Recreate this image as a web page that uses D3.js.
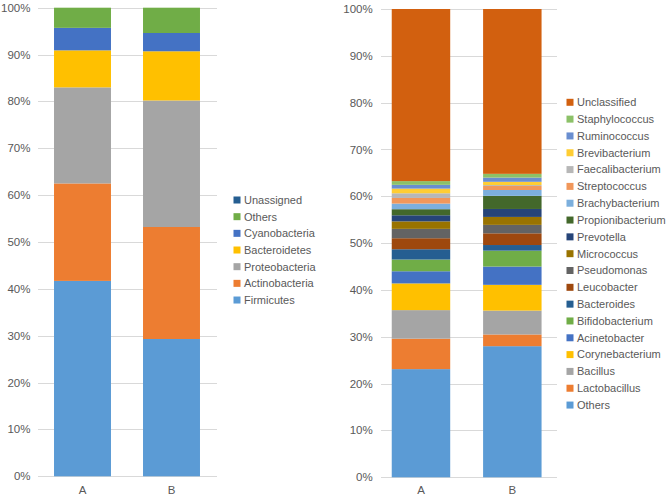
<!DOCTYPE html>
<html lang="en">
<head>
    <meta charset="UTF-8">
    <title>Stacked composition</title>
    <script src="https://cdn.jsdelivr.net/npm/d3@7"></script>
    <style>
        body { margin: 0; background: #fff; }
        text { font-family: "Liberation Sans", Arial, Helvetica, sans-serif; fill: #595959; }
    </style>
</head>
<body>
<div id="chart"></div>

<script type=text/javascript>
    var width = 669;
    var height = 503;

    var samples = ["A", "B"];
    var yTicks = [0, 0.1, 0.2, 0.3, 0.4, 0.5, 0.6, 0.7, 0.8, 0.9, 1];

    // left panel: phylum level, stacked bottom -> top
    var phyla = ["Firmicutes", "Actinobacteria", "Proteobacteria", "Bacteroidetes", "Cyanobacteria", "Others", "Unassigned"];
    var phylaA = [41.7, 20.8, 20.5, 7.9, 4.8, 4.3, 0];
    var phylaB = [29.3, 23.9, 27.0, 10.5, 3.9, 5.4, 0];
    var phylaColors = ["#5b9bd5", "#ed7d31", "#a5a5a5", "#ffc000", "#4472c4", "#70ad47", "#255e91"];

    // right panel: genus level, stacked bottom -> top
    var genera = ["Others", "Lactobacillus", "Bacillus", "Corynebacterium", "Acinetobacter", "Bifidobacterium",
        "Bacteroides", "Leucobacter", "Pseudomonas", "Micrococcus", "Prevotella", "Propionibacterium",
        "Brachybacterium", "Streptococcus", "Faecalibacterium", "Brevibacterium", "Ruminococcus",
        "Staphylococcus", "Unclassified"];
    var generaA = [23.1, 6.5, 6.1, 5.7, 2.6, 2.5, 2.2, 2.35, 2.0, 1.6, 1.3, 1.3, 1.2, 1.2, 1.0, 1.0, 0.8, 0.8, 36.75];
    var generaB = [28.0, 2.5, 5.1, 5.5, 3.9, 3.4, 1.2, 2.5, 1.8, 1.7, 1.7, 2.8, 1.25, 0.85, 0.2, 0.7, 0.9, 0.8, 35.2];
    var generaColors = ["#5b9bd5", "#ed7d31", "#a5a5a5", "#ffc000", "#4472c4", "#70ad47",
        "#255e91", "#9e480e", "#636363", "#997300", "#264478", "#43682b",
        "#7cafdd", "#f1975a", "#b7b7b7", "#ffcd33", "#698ed0", "#8cc168", "#d2600f"];

    var svg = d3.select("#chart")
        .append("svg")
        .attr("width", width)
        .attr("height", height);

    function drawPanel(opt) {
        var rows = samples.map(function (s, i) {
            var row = {sample: s};
            opt.keys.forEach(function (k, j) { row[k] = opt.values[i][j]; });
            return row;
        });

        var series = d3.stack()
            .keys(opt.keys)
            .offset(d3.stackOffsetExpand)(rows);

        var y = d3.scaleLinear().domain([0, 1]).range([opt.bottom, opt.top]);
        var x = d3.scaleBand().domain(samples)
            .range(opt.barRange)
            .paddingInner(0.36)
            .paddingOuter(0.18);

        var g = svg.append("g");

        // gridlines
        g.selectAll("line.grid")
            .data(yTicks)
            .enter().append("line")
            .attr("x1", opt.gridX[0])
            .attr("x2", opt.gridX[1])
            .attr("y1", function (d) { return Math.round(y(d)) + 0.5; })
            .attr("y2", function (d) { return Math.round(y(d)) + 0.5; })
            .attr("stroke", "#d9d9d9")
            .attr("stroke-width", 1);

        // tick labels
        g.selectAll("text.tick")
            .data(yTicks)
            .enter().append("text")
            .attr("x", opt.labelX)
            .attr("y", function (d) { return y(d); })
            .attr("dy", "0.35em")
            .attr("text-anchor", "end")
            .attr("font-size", "11.5px")
            .text(d3.format(".0%"));

        // stacked bars
        g.selectAll("g.layer")
            .data(series)
            .enter().append("g")
            .attr("fill", function (d, i) { return opt.colors[i]; })
            .selectAll("rect")
            .data(function (d) { return d; })
            .enter().append("rect")
            .attr("x", function (d) { return x(d.data.sample); })
            .attr("width", x.bandwidth())
            .attr("y", function (d) { return y(d[1]); })
            .attr("height", function (d) { return y(d[0]) - y(d[1]); });

        // category labels
        g.selectAll("text.cat")
            .data(samples)
            .enter().append("text")
            .attr("x", function (d) { return x(d) + x.bandwidth() / 2; })
            .attr("y", 490)
            .attr("dy", "0.35em")
            .attr("text-anchor", "middle")
            .attr("font-size", "11.5px")
            .text(function (d) { return d; });

        // legend, top entry = last series
        var legendKeys = opt.keys.slice().reverse();
        var lg = g.selectAll("g.legend")
            .data(legendKeys)
            .enter().append("g")
            .attr("transform", function (d, i) {
                return "translate(" + opt.legendX + "," + (opt.legendY + i * opt.legendStep) + ")";
            });

        lg.append("rect")
            .attr("x", 0)
            .attr("y", -3.5)
            .attr("width", 7)
            .attr("height", 7)
            .attr("fill", function (d) { return opt.colors[opt.keys.indexOf(d)]; });

        lg.append("text")
            .attr("x", 10.5)
            .attr("dy", "0.35em")
            .attr("font-size", "11px")
            .text(function (d) { return d; });
    }

    drawPanel({
        keys: phyla,
        values: [phylaA, phylaB],
        colors: phylaColors,
        top: 7.7,
        bottom: 476.3,
        gridX: [38, 217],
        barRange: [38, 216],
        labelX: 30.5,
        legendX: 233.5,
        legendY: 200,
        legendStep: 16.67
    });

    drawPanel({
        keys: genera,
        values: [generaA, generaB],
        colors: generaColors,
        top: 9,
        bottom: 477.3,
        gridX: [381, 557],
        barRange: [375.3, 558],
        labelX: 372.7,
        legendX: 566.5,
        legendY: 102.3,
        legendStep: 16.82
    });
</script>
</body>
</html>
